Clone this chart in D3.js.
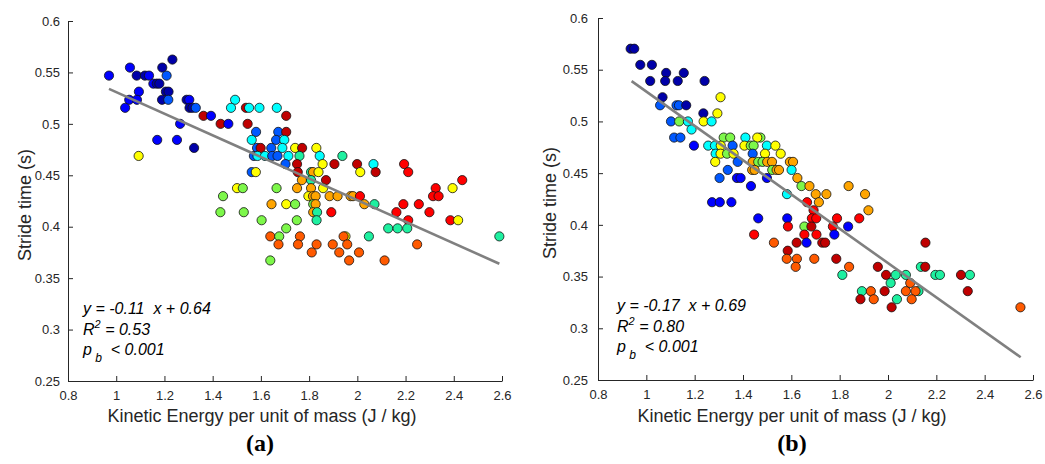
<!DOCTYPE html>
<html><head><meta charset="utf-8">
<script src="https://cdn.jsdelivr.net/npm/d3@7/dist/d3.min.js"></script>
<style>
body{margin:0;background:#fff}
svg{display:block}
</style>
</head><body>
<svg id="c" width="1045" height="464"></svg>
<script>
// ---------- Panel (a) ----------
const energyA = [
1.233,
1.057,1.191,
0.970,1.085,1.119,1.136,1.209,
1.154,1.168,1.179,
1.094,1.206,1.217,
1.054,1.086,1.190,1.216,1.292,1.303,1.493,
1.037,1.304,1.316,1.330,1.476,1.538,1.551,1.594,1.666,
1.362,1.393,1.705,
1.265,1.433,1.465,1.545,
1.580,1.672,1.705,
1.170,1.252,1.562,1.663,1.697,
1.323,1.584,1.599,1.643,1.689,1.742,1.771,1.830,
1.093,1.571,1.586,1.617,1.647,1.669,1.714,1.760,1.844,1.938,
1.702,1.750,1.856,1.905,1.999,2.067,2.194,
1.562,1.579,1.753,1.808,1.816,1.839,2.012,2.076,2.211,
1.770,1.808,1.870,2.435,
1.501,1.525,1.665,1.750,1.808,1.858,2.325,2.395,
1.443,1.797,1.816,1.827,1.885,1.918,1.972,1.982,2.011,2.314,2.337,
1.644,1.705,1.742,1.817,1.827,2.029,2.071,2.191,2.255,
1.432,1.529,1.817,1.833,1.892,2.162,2.299,
1.603,1.749,1.831,2.211,2.386,2.418,
1.705,2.128,2.167,2.207,
1.639,1.676,1.762,1.951,1.943,2.048,2.589,
1.673,1.754,1.831,1.898,1.958,2.248,
1.811,1.925,2.007,
1.639,1.966,2.113
];
const strideA = [
0.5625,
0.5547,0.5547,
0.5469,0.5469,0.5469,0.5469,0.5469,
0.5391,0.5391,0.5391,
0.5313,0.5313,0.5313,
0.5234,0.5234,0.5234,0.5234,0.5234,0.5234,0.5234,
0.5156,0.5156,0.5156,0.5156,0.5156,0.5156,0.5156,0.5156,0.5156,
0.5078,0.5078,0.5078,
0.5000,0.5000,0.5000,0.5000,
0.4922,0.4922,0.4922,
0.4844,0.4844,0.4844,0.4844,0.4844,
0.4766,0.4766,0.4766,0.4766,0.4766,0.4766,0.4766,0.4766,
0.4688,0.4688,0.4688,0.4688,0.4688,0.4688,0.4688,0.4688,0.4688,0.4688,
0.4609,0.4609,0.4609,0.4609,0.4609,0.4609,0.4609,
0.4531,0.4531,0.4531,0.4531,0.4531,0.4531,0.4531,0.4531,0.4531,
0.4453,0.4453,0.4453,0.4453,
0.4375,0.4375,0.4375,0.4375,0.4375,0.4375,0.4375,0.4375,
0.4297,0.4297,0.4297,0.4297,0.4297,0.4297,0.4297,0.4297,0.4297,0.4297,0.4297,
0.4219,0.4219,0.4219,0.4219,0.4219,0.4219,0.4219,0.4219,0.4219,
0.4141,0.4141,0.4141,0.4141,0.4141,0.4141,0.4141,
0.4063,0.4063,0.4063,0.4063,0.4063,0.4063,
0.3984,0.3984,0.3984,0.3984,
0.3906,0.3906,0.3906,0.3906,0.3906,0.3906,0.3906,
0.3828,0.3828,0.3828,0.3828,0.3828,0.3828,
0.3750,0.3750,0.3750,
0.3672,0.3672,0.3672
];
const subjectA = [
0,
1,0,
1,0,0,1,2,
1,0,0,
1,0,0,
1,1,0,2,0,1,3,
1,0,0,2,3,10,3,3,3,
10,1,10,
1,10,1,10,
2,2,10,
1,1,3,2,3,
0,2,10,2,3,6,10,6,
6,2,3,3,2,2,3,4,3,4,
2,10,6,10,10,3,9,
2,6,10,4,7,6,6,10,9,
7,4,10,9,
6,5,5,7,7,6,9,6,
5,6,7,7,7,7,7,7,9,9,9,
7,6,5,5,7,7,4,9,9,
5,5,7,4,9,9,9,
5,5,4,9,9,6,
5,4,4,4,
8,5,8,6,8,4,4,
8,8,8,8,8,8,
8,8,8,
5,8,8
];
const fitXA = [0.970, 2.589];
const fitYA = [0.534, 0.364];

// ---------- Panel (b) ----------
const energyB = [
0.935,0.950,
0.975,1.023,
1.082,1.155,
1.016,1.078,1.130,1.241,
1.067,1.307,
1.057,1.125,1.135,1.165,
1.236,1.294,
1.102,1.136,1.172,1.237,1.270,
1.187,
1.115,1.141,1.320,1.347,1.410,1.472,1.459,
1.197,1.256,1.284,1.308,1.357,1.406,1.432,1.444,1.499,1.534,
1.287,1.307,1.334,1.361,1.440,1.491,1.556,
1.285,1.378,1.440,1.463,1.481,1.500,1.520,1.594,1.607,
1.337,1.438,1.448,1.521,1.539,1.549,1.601,
1.303,1.375,1.390,1.499,1.625,
1.433,1.642,1.675,1.837,
1.582,1.701,1.745,1.905,
1.272,1.304,1.352,1.665,1.714,
1.692,1.919,
1.463,1.583,1.685,1.703,1.789,1.881,
1.586,1.654,1.683,1.772,1.835,
1.446,1.654,1.704,1.778,
1.528,1.622,1.663,1.728,1.740,2.155,
1.585,
1.581,1.623,1.695,1.786,
1.618,1.839,1.958,2.136,2.154,
1.811,1.992,2.032,2.074,2.196,2.215,2.302,2.339,
2.011,2.092,
1.892,1.929,1.986,2.074,2.126,2.114,2.330,
1.886,1.941,2.037,2.098,
2.015,2.548
];
const strideB = [
0.5703,0.5703,
0.5547,0.5547,
0.5469,0.5469,
0.5391,0.5391,0.5391,0.5391,
0.5234,0.5234,
0.5156,0.5156,0.5156,0.5156,
0.5078,0.5078,
0.5000,0.5000,0.5000,0.5000,0.5000,
0.4922,
0.4844,0.4844,0.4844,0.4844,0.4844,0.4844,0.4844,
0.4766,0.4766,0.4766,0.4766,0.4766,0.4766,0.4766,0.4766,0.4766,0.4766,
0.4688,0.4688,0.4688,0.4688,0.4688,0.4688,0.4688,
0.4609,0.4609,0.4609,0.4609,0.4609,0.4609,0.4609,0.4609,0.4609,
0.4531,0.4531,0.4531,0.4531,0.4531,0.4531,0.4531,
0.4453,0.4453,0.4453,0.4453,0.4453,
0.4375,0.4375,0.4375,0.4375,
0.4297,0.4297,0.4297,0.4297,
0.4219,0.4219,0.4219,0.4219,0.4219,
0.4141,0.4141,
0.4063,0.4063,0.4063,0.4063,0.4063,0.4063,
0.3984,0.3984,0.3984,0.3984,0.3984,
0.3906,0.3906,0.3906,0.3906,
0.3828,0.3828,0.3828,0.3828,0.3828,0.3828,
0.3750,
0.3672,0.3672,0.3672,0.3672,
0.3594,0.3594,0.3594,0.3594,0.3594,
0.3516,0.3516,0.3516,0.3516,0.3516,0.3516,0.3516,0.3516,
0.3438,0.3438,
0.3359,0.3359,0.3359,0.3359,0.3359,0.3359,0.3359,
0.3281,0.3281,0.3281,0.3281,
0.3203,0.3203
];
const subjectB = [
0,0,
0,0,
0,0,
0,0,0,0,
0,6,
2,2,2,0,
0,6,
2,5,3,6,3,
3,
2,2,5,5,3,5,6,
1,3,3,6,2,6,5,5,3,6,
3,6,5,6,2,6,6,
6,2,7,5,5,7,7,7,7,
2,7,7,5,7,7,3,
2,1,1,1,7,
1,5,7,7,
3,7,7,7,
1,1,1,9,7,
9,7,
1,1,9,9,9,9,
9,5,10,9,1,
9,9,9,1,
8,10,1,10,10,10,
10,
8,8,8,10,
8,8,10,4,10,
4,10,4,4,4,4,10,4,
4,8,
4,8,10,8,4,8,10,
10,8,4,8,
10,8
];
const fitXB = [0.939, 2.549];
const fitYB = [0.539, 0.272];

// ---------- Shared ----------
const subjectColors = ["#0000a8","#0000ff","#0058ff","#00ffff","#1ef0a0","#7df74a","#ffff00","#ffa500","#ff5a00","#ff0000","#c00000"];
const xTicks = [0.8,1,1.2,1.4,1.6,1.8,2,2.2,2.4,2.6];
const xTickLabels = ["0.8","1","1.2","1.4","1.6","1.8","2","2.2","2.4","2.6"];
const yTicks = [0.25,0.3,0.35,0.4,0.45,0.5,0.55,0.6];
const yTickLabels = ["0.25","0.3","0.35","0.4","0.45","0.5","0.55","0.6"];
const xLabel = "Kinetic Energy per unit of mass (J / kg)";
const yLabel = "Stride time (s)";
const eqTexts = ["y = -0.11  x + 0.64", "y = -0.17  x + 0.69"];
const r2Texts = ["0.53", "0.80"];
const pTexts = ["< 0.001", "< 0.001"];
const captions = ["(a)", "(b)"];

const SANS = '"Liberation Sans",Arial,Helvetica,sans-serif';
const SERIF = '"Liberation Serif","DejaVu Serif",serif';

const svg = d3.select("#c");
svg.append("rect").attr("width",1045).attr("height",464).attr("fill","#fff");

const panels = [
  {energy:energyA, stride:strideA, subject:subjectA, fx:fitXA, fy:fitYA,
   left:68, right:502, top:21, bottom:381, ypad:8, ylabX:31, ylabY:205, annX:83, annY:314, capX:260, xlabX:262},
  {energy:energyB, stride:strideB, subject:subjectB, fx:fitXB, fy:fitYB,
   left:598, right:1033, top:18, bottom:380, ypad:10, ylabX:556, ylabY:203, annX:617, annY:311, capX:792, xlabX:792}
];

const ink = "#262626";

panels.forEach((p, pi) => {
  const x = d3.scaleLinear().domain([0.8, 2.6]).range([p.left, p.right]);
  const y = d3.scaleLinear().domain([0.25, 0.6]).range([p.bottom, p.top]);
  const g = svg.append("g").style("font-family", SANS);

  // points
  const idx = d3.range(p.energy.length);
  g.append("g").selectAll("circle").data(idx).join("circle")
    .attr("cx", i => x(p.energy[i]))
    .attr("cy", i => y(p.stride[i]))
    .attr("r", 4.6)
    .attr("fill", i => subjectColors[p.subject[i]])
    .attr("stroke", "#111")
    .attr("stroke-width", 0.8);

  // regression line
  const line = d3.line().x(d => x(d[0])).y(d => y(d[1]));
  g.append("path")
    .attr("d", line(d3.zip(p.fx, p.fy)))
    .attr("fill", "none")
    .attr("stroke", "#808080")
    .attr("stroke-width", 2.6);

  // axes
  const xa = d3.axisBottom(x).tickValues(xTicks).tickFormat((d, i) => xTickLabels[i])
    .tickSizeInner(-5).tickSizeOuter(0).tickPadding(10);
  const ya = d3.axisLeft(y).tickValues(yTicks).tickFormat((d, i) => yTickLabels[i])
    .tickSizeInner(-5).tickSizeOuter(0).tickPadding(p.ypad);
  const gx = g.append("g").attr("transform", `translate(0,${p.bottom})`).call(xa);
  const gy = g.append("g").attr("transform", `translate(${p.left},0)`).call(ya);
  [gx, gy].forEach(a => {
    a.attr("font-family", null);
    a.select(".domain").attr("stroke", ink).attr("stroke-width", 1);
    a.selectAll(".tick line").attr("stroke", ink).attr("stroke-width", 1);
    a.selectAll(".tick text").attr("fill", ink).style("font-size", "13px").style("font-family", SANS);
  });

  // axis labels
  g.append("text").attr("x", p.xlabX).attr("y", 422).attr("text-anchor", "middle")
    .style("font-size", "18px").attr("fill", ink).text(xLabel);
  g.append("text").attr("transform", `translate(${p.ylabX},${p.ylabY}) rotate(-90)`)
    .attr("text-anchor", "middle").style("font-size", "18px").attr("fill", ink).text(yLabel);

  // annotation
  const ann = g.append("g").style("font-style", "italic").style("font-size", "16px").attr("fill", "#000");
  ann.append("text").attr("x", p.annX).attr("y", p.annY)
    .style("white-space", "pre").text(eqTexts[pi]);
  const t2 = ann.append("text").attr("x", p.annX).attr("y", p.annY + 21).style("white-space", "pre");
  t2.append("tspan").text("R");
  t2.append("tspan").attr("dy", -7).style("font-size", "11px").text("2");
  t2.append("tspan").attr("dy", 7).text(" = " + r2Texts[pi]);
  const t3 = ann.append("text").attr("x", p.annX).attr("y", p.annY + 41).style("white-space", "pre");
  t3.append("tspan").text("p");
  t3.append("tspan").attr("dy", 7).style("font-size", "12px").text(" b");
  t3.append("tspan").attr("dy", -7).text("  " + pTexts[pi]);

  // caption
  svg.append("text").attr("x", p.capX).attr("y", 451).attr("text-anchor", "middle")
    .style("font-family", SERIF).style("font-weight", "bold")
    .style("font-size", "24px").attr("fill", "#000").text(captions[pi]);
});
</script>
</body></html>
